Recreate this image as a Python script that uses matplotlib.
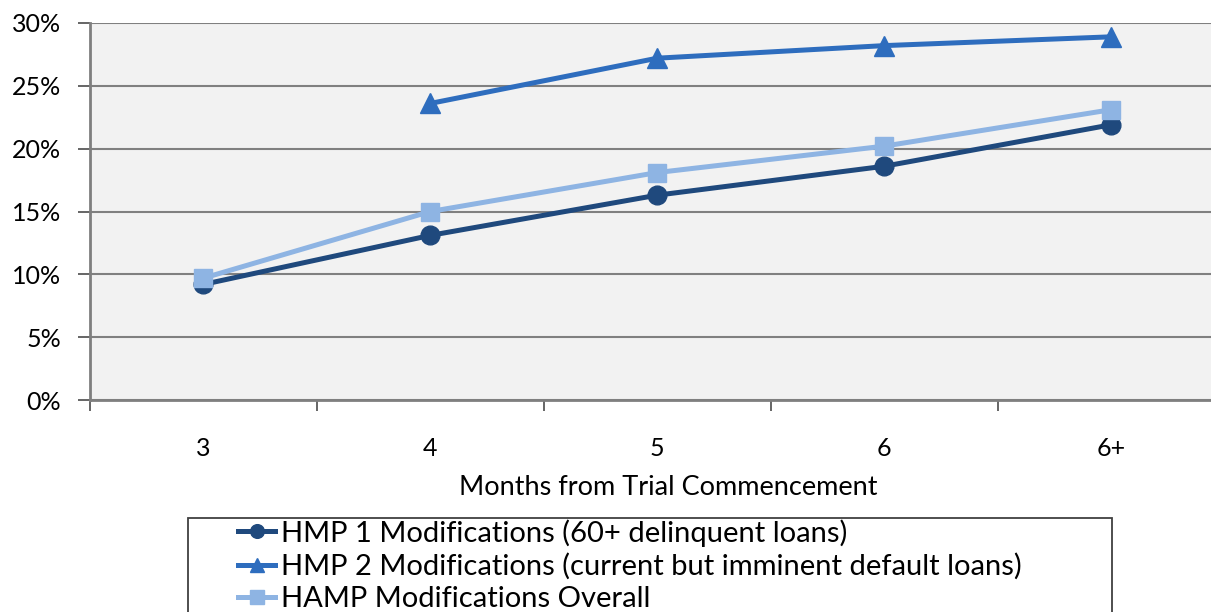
import matplotlib
matplotlib.use("Agg")
import matplotlib.pyplot as plt
from matplotlib.patches import Rectangle
from matplotlib.ticker import FixedLocator, NullFormatter

plt.rcParams['font.family'] = ['Lato', 'DejaVu Sans']

categories = ["3", "4", "5", "6", "6+"]
hmp1 = [9.2, 13.1, 16.3, 18.6, 21.9]
hmp2 = [None, 23.6, 27.2, 28.2, 28.9]
hamp = [9.7, 15.0, 18.1, 20.2, 23.1]
labels = ["HMP 1 Modifications (60+ delinquent loans)",
          "HMP 2 Modifications (current but imminent default loans)",
          "HAMP Modifications Overall"]
yticks = [0, 5, 10, 15, 20, 25, 30]

W, H = 1211, 612
fig = plt.figure(figsize=(W / 100, H / 100), dpi=100)
left, right, top, bottom = 90, 1224.5, 23, 400
ax = fig.add_axes([left / W, 1 - bottom / H, (right - left) / W, (bottom - top) / H])
ax.set_facecolor('#F2F2F2')

x = list(range(len(categories)))
c1, c2, c3 = '#1F497D', '#2E6DBE', '#8EB4E3'
fs_tick = 18
fs_lab = 19.5
fs_leg = 21

ax.plot(x, hmp1, color=c1, lw=3.6, marker='o', ms=13.5, zorder=3, label=labels[0])
x2 = [i for i, v in zip(x, hmp2) if v is not None]
y2 = [v for v in hmp2 if v is not None]
ax.plot(x2, y2, color=c2, lw=3.6, marker='^', ms=14, zorder=4, label=labels[1])
ax.plot(x, hamp, color=c3, lw=3.6, marker='s', ms=13, zorder=5, label=labels[2])

ax.set_xlim(-0.5, len(categories) - 0.5)
ax.set_ylim(0, 30)
ax.set_yticks(yticks)
ax.set_yticklabels([f"{v}%" for v in yticks], fontsize=fs_tick)
ax.yaxis.grid(True, color='#808080', lw=1.5)
ax.set_axisbelow(True)

ax.xaxis.set_major_locator(FixedLocator([i - 0.5 for i in range(len(categories) + 1)]))
ax.xaxis.set_major_formatter(NullFormatter())
ax.xaxis.set_minor_locator(FixedLocator(x))
ax.set_xticklabels(categories, minor=True, fontsize=fs_tick)
ax.tick_params(axis='x', which='minor', length=0, pad=27)
ax.tick_params(axis='x', which='major', length=8, width=1.3, color='#595959', direction='out')
ax.tick_params(axis='y', length=9, width=1.3, color='#595959', pad=12)
ax.set_xlabel("Months from Trial Commencement", fontsize=fs_lab, labelpad=12)
ax.xaxis.set_label_coords((668 - left) / (right - left), -0.2)

for s in ['top', 'right']:
    ax.spines[s].set_visible(False)
ax.spines['left'].set_color('#7F7F7F')
ax.spines['left'].set_linewidth(2)
ax.spines['bottom'].set_color('#7F7F7F')
ax.spines['bottom'].set_linewidth(2)

# legend frame
fig.patches.append(Rectangle((188 / W, -0.05), (1112 - 188) / W, 1 - 518 / H + 0.05,
                             transform=fig.transFigure, facecolor='white',
                             edgecolor='#404040', lw=1.3, zorder=0))
h, l = ax.get_legend_handles_labels()
leg = fig.legend(h, l, loc='upper left', bbox_to_anchor=(238 / W, 1 - 519 / H),
                 frameon=False, fontsize=fs_leg, handlelength=1.27, handletextpad=0.2,
                 labelspacing=0.22, borderpad=0, borderaxespad=0, markerscale=0.73)

fig.savefig("out.png", dpi=100)
